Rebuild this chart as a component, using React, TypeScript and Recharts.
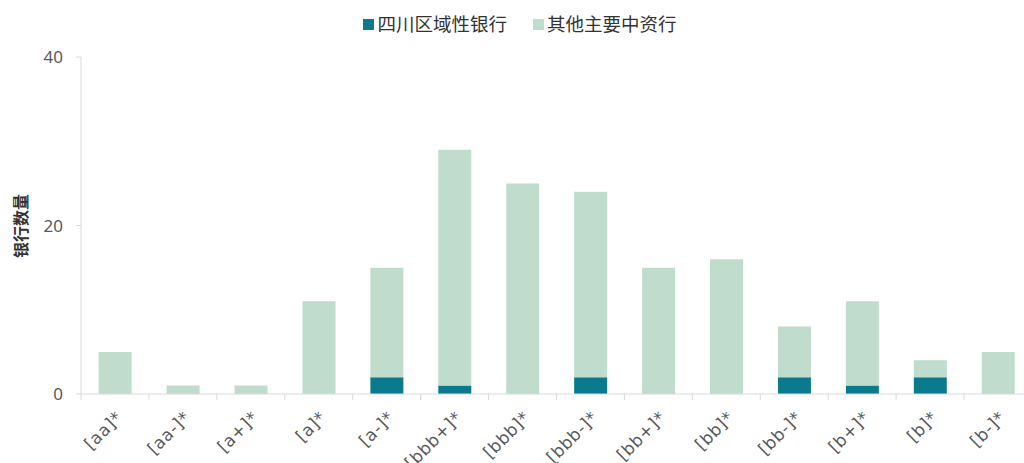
import React from "react";
import { BarChart, Bar, XAxis, YAxis, Text } from "recharts";

const categories = [
  "[aa]*", "[aa-]*", "[a+]*", "[a]*", "[a-]*", "[bbb+]*", "[bbb]*",
  "[bbb-]*", "[bb+]*", "[bb]*", "[bb-]*", "[b+]*", "[b]*", "[b-]*",
];
const sichuanBanks = [0, 0, 0, 0, 2, 1, 0, 2, 0, 0, 2, 1, 2, 0];
const otherBanks = [5, 1, 1, 11, 13, 28, 25, 22, 15, 16, 6, 10, 2, 5];
const yTicks = [0, 20, 40];

const seriesNames = ["四川区域性银行", "其他主要中资行"];
const colors = ["#0b7a8d", "#bfdccd"];

const data = categories.map((name, i) => ({
  name,
  sichuan: sichuanBanks[i],
  other: otherBanks[i],
}));

const W = 1040;
const H = 463;
const margin = { top: 57, right: 8, bottom: 0, left: 0 };
const yAxisWidth = 81;
const step = (W - margin.left - margin.right - yAxisWidth) / categories.length;

const tickFont = "'DejaVu Sans', sans-serif";
const numFont = "'Noto Sans', sans-serif";
const cjkFont = "'Noto Sans CJK SC', sans-serif";

function XTick(props: any) {
  const { x, y, payload } = props;
  return (
    <g>
      <line x1={x - step / 2} x2={x - step / 2} y1={y - 8} y2={y - 2} stroke="#d9d9d9" />
      <Text
        x={x}
        y={y + 8}
        angle={-45}
        textAnchor="end"
        verticalAnchor="start"
        fill="#595959"
        fontSize={17}
        fontFamily={tickFont}
        letterSpacing={0.6}
      >
        {payload.value}
      </Text>
    </g>
  );
}

function LegendBox() {
  return (
    <div
      style={{
        position: "absolute",
        top: 10,
        left: 0,
        width: W,
        display: "flex",
        justifyContent: "center",
        gap: 26,
        fontFamily: cjkFont,
        fontSize: 18.5,
        color: "#333",
      }}
    >
      {seriesNames.map((n, i) => (
        <div key={n} style={{ display: "flex", alignItems: "center" }}>
          <span
            style={{
              display: "inline-block",
              width: 11,
              height: 11,
              background: colors[i],
              marginRight: 3,
              marginTop: 2,
            }}
          />
          {n}
        </div>
      ))}
    </div>
  );
}

export default function App() {
  return (
    <div
      style={{
        position: "absolute",
        left: 0,
        top: 0,
        width: 1024,
        height: H,
        overflow: "hidden",
        background: "#fff",
      }}
    >
      <LegendBox />
      <div
        style={{
          position: "absolute",
          left: 20,
          top: 226,
          transform: "translate(-50%, -50%) rotate(-90deg)",
          fontFamily: cjkFont,
          fontWeight: 700,
          fontSize: 16,
          color: "#333",
          whiteSpace: "nowrap",
        }}
      >
        银行数量
      </div>
      <BarChart width={W} height={H} data={data} margin={margin} barCategoryGap="26%">
        <XAxis
          dataKey="name"
          interval={0}
          tickLine={false}
          axisLine={{ stroke: "#d9d9d9" }}
          tick={(p: any) => <XTick {...p} />}
          height={69}
        />
        <YAxis
          domain={[0, 40]}
          ticks={yTicks}
          width={yAxisWidth}
          axisLine={{ stroke: "#d9d9d9" }}
          tickLine={{ stroke: "#d9d9d9" }}
          tickSize={5}
          tickMargin={13}
          tick={{ fill: "#595959", fontSize: 17, fontFamily: numFont }}
        />
        <Bar dataKey="sichuan" name={seriesNames[0]} stackId="a" fill={colors[0]} isAnimationActive={false} />
        <Bar dataKey="other" name={seriesNames[1]} stackId="a" fill={colors[1]} isAnimationActive={false} />
      </BarChart>
    </div>
  );
}
